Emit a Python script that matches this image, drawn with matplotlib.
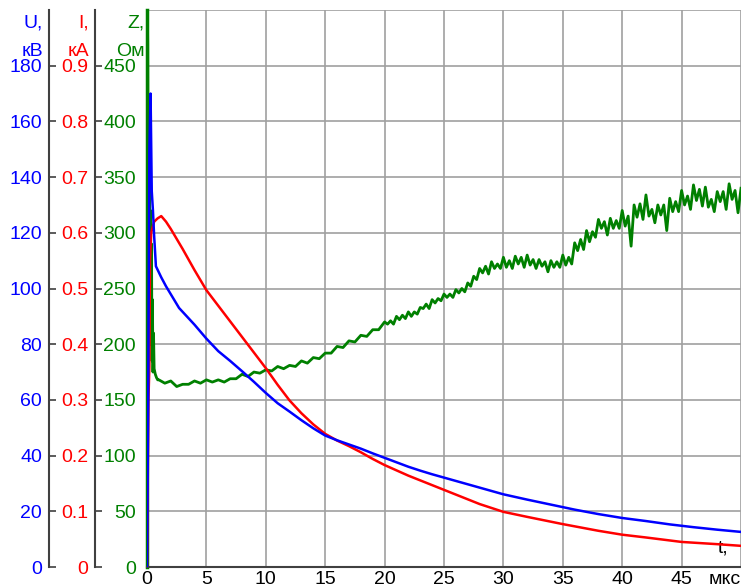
import numpy as np
import matplotlib
matplotlib.use("Agg")
import matplotlib.pyplot as plt

plt.rcParams['font.family'] = ['Liberation Sans', 'DejaVu Sans']

# ---- data ----
u_t = [0, 0.1, 0.2, 0.3, 0.4, 0.5, 0.6, 0.75, 1.2, 1.6, 2.7, 4, 5, 6, 7, 8, 9,
       10, 11, 12, 13, 14, 15, 16, 17, 18, 19, 20, 21, 22, 23, 24, 25, 26, 28, 30, 32, 34, 36, 38,
       40, 42, 44, 46, 48, 50]
u_kv = [0, 60, 150, 170, 135, 128, 119, 108, 104, 100.8, 93, 87, 82, 77.5, 74, 70.3, 66.5,
        62.5, 58.8, 55.8, 52.7, 49.8, 47.2, 45.5, 44, 42.5, 40.8, 39.2, 37.6, 36, 34.6, 33.3, 32.1, 30.9,
        28.5, 26.1, 24.2, 22.4, 20.6, 19, 17.6, 16.5, 15.3, 14.3, 13.4, 12.6]

i_t = [0, 0.12, 0.2, 0.25, 0.35, 0.6, 0.9, 1.2, 1.6, 2, 3, 4, 5, 6, 7, 8, 9,
       10, 11, 12, 13, 14, 15, 16, 17, 18, 19, 20, 22, 24, 26, 28, 30, 32, 35, 38,
       40, 42, 45, 48, 50]
i_ka = [0, 0.3, 0.36, 0.55, 0.6, 0.62, 0.626, 0.63, 0.62, 0.607, 0.571, 0.533, 0.497, 0.469, 0.441,
        0.413, 0.385, 0.357, 0.327, 0.299, 0.276, 0.256, 0.239, 0.227, 0.217, 0.206, 0.194, 0.183,
        0.164, 0.147, 0.13, 0.113, 0.099, 0.09, 0.077, 0.065, 0.058, 0.053, 0.045, 0.041, 0.038]

z_t_early = [0, 0.03, 0.06, 0.1, 0.14, 0.18, 0.22, 0.26, 0.3, 0.34, 0.38, 0.42, 0.46, 0.5,
             0.55, 0.6, 0.7, 0.8, 0.9]
z_early = [0, 500, 470, 330, 420, 250, 340, 200, 320, 215, 290, 185, 240, 175, 210, 178, 173, 170, 168]
z_t_mid = list(np.arange(1.0, 19.51, 0.5))
z_mid = [168, 165, 167, 162, 164, 164, 167, 165, 168, 166,
         168, 166, 169, 169, 173, 171, 175, 174, 177, 176,
         180, 178, 181, 180, 185, 183, 188, 187, 192, 192,
         198, 197, 203, 202, 208, 207, 213, 213]
z_t_late = list(np.arange(20.0, 50.001, 0.25))
z_late = [220, 218, 221, 218, 225, 222, 226, 223, 229, 225, 229, 227, 233, 232, 236, 232, 240, 237,
          241, 239, 245, 242, 245, 242, 249, 246, 250, 247,
          255, 252, 261, 258, 268, 264, 270, 263, 274, 268, 272, 268,
          278, 269, 275, 268, 279, 272, 278, 269, 280, 271, 276, 268, 276, 270, 274, 265, 275, 269, 274, 269,
          280, 271, 278, 272, 291, 284, 294, 285, 302, 292, 301, 296, 312, 304, 310, 298, 313, 304, 311, 304,
          320, 306, 315, 288, 325, 314, 326, 312, 334, 315, 321, 309, 325, 316, 325, 302, 331, 319, 328, 319,
          338, 325, 333, 321, 343, 329, 339, 324, 341, 323, 330, 319, 337, 328, 337, 321, 344, 330, 338, 318, 340]
z_t = z_t_early + z_t_mid + z_t_late
z_ohm = z_early + z_mid + z_late

x_ticks = [0, 5, 10, 15, 20, 25, 30, 35, 40, 45, 50]
x_labels = ['0', '5', '10', '15', '20', '25', '30', '35', '40', '45', 'мкс']
z_ticks = [0, 50, 100, 150, 200, 250, 300, 350, 400, 450, 500]
u_ticks = [0, 20, 40, 60, 80, 100, 120, 140, 160, 180]
i_ticks = [0, 0.1, 0.2, 0.3, 0.4, 0.5, 0.6, 0.7, 0.8, 0.9]
i_labels = ['0', '0.1', '0.2', '0.3', '0.4', '0.5', '0.6', '0.7', '0.8', '0.9']

BLUE = '#0000ff'
RED = '#ff0000'
GREEN = '#008000'
SPINE = '#404040'
FS = 14

W, H = 741, 587
fig = plt.figure(figsize=(W / 100, H / 100), dpi=100)
L, R, B, T = 147 / W, 741 / W, 20 / H, 577 / H
ax = fig.add_axes([L, B, R - L, T - B])

ax.set_xlim(0, 50)
ax.set_ylim(0, 500)
ax.set_xticks(x_ticks)
ax.set_xticklabels(x_labels)
ax.set_yticks(z_ticks)
ax.set_yticklabels([str(v) for v in z_ticks[:-1]] + [''])
ax.grid(True, color='#a0a0a0', linewidth=1.2)
ax.set_axisbelow(True)
for s in ['top', 'right']:
    ax.spines[s].set_visible(False)
ax.spines['left'].set_color(GREEN)
ax.spines['left'].set_linewidth(2.5)
ax.spines['bottom'].set_color(SPINE)
ax.spines['bottom'].set_linewidth(1.5)
ax.tick_params(axis='y', length=0, pad=8, labelsize=FS, labelcolor=GREEN)
ax.tick_params(axis='x', length=0, pad=3, labelsize=FS, labelcolor='black')
xl = ax.get_xticklabels()
xl[-1].set_horizontalalignment('right')

ax.plot(z_t, z_ohm, color=GREEN, linewidth=2.0, zorder=3)

def make_twin(offset_px, ylim, ticks, labels, color):
    a = ax.twinx()
    a.set_ylim(*ylim)
    for s in ['top', 'right', 'bottom']:
        a.spines[s].set_visible(False)
    a.spines['left'].set_visible(True)
    a.spines['left'].set_position(('axes', offset_px / (R - L) / W))
    a.spines['left'].set_color(SPINE)
    a.spines['left'].set_linewidth(1.5)
    a.yaxis.set_ticks_position('left')
    a.yaxis.set_label_position('left')
    a.set_yticks(ticks)
    a.set_yticklabels(labels)
    a.tick_params(axis='y', direction='in', length=5, width=1.2, color=SPINE,
                  pad=5, labelsize=FS, labelcolor=color)
    return a

ax_i = make_twin(95 - 147, (0, 1.0), i_ticks, i_labels, RED)
ax_u = make_twin(49 - 147, (0, 200), u_ticks, [str(v) for v in u_ticks], BLUE)

ax_i.plot(i_t, i_ka, color=RED, linewidth=1.8)
ax_u.plot(u_t, u_kv, color=BLUE, linewidth=1.8)

ax.text(48.5, 9, 't,', fontsize=FS, color='black', ha='center', va='bottom')

def title(xr, s1, s2, color):
    fig.text(xr / W, 1 - 28 / H, s1, fontsize=FS, color=color, ha='right', va='baseline')
    fig.text(xr / W, 1 - 56 / H, s2, fontsize=FS, color=color, ha='right', va='baseline')

title(43, 'U,', 'кВ', BLUE)
title(89, 'I,', 'кА', RED)
title(145, 'Z,', 'Ом', GREEN)

fig.savefig('out.png', dpi=100)
